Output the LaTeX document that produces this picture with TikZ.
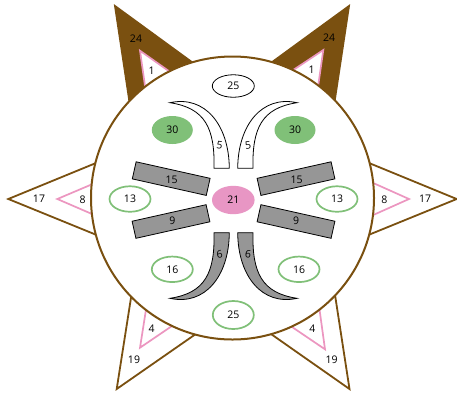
\documentclass[tikz,border=0pt]{standalone}
\usepackage{fontspec}
\setmainfont{Open Sans}
\usetikzlibrary{shapes.geometric}
\definecolor{brn}{RGB}{122,80,16}
\definecolor{pnk}{RGB}{236,150,192}
\definecolor{pnkfill}{RGB}{232,150,196}
\definecolor{grn}{RGB}{128,192,120}
\definecolor{gry}{RGB}{150,150,150}
\tikzset{
  lbl/.style={font=\fontsize{10.5}{12}\selectfont, inner sep=0pt},
  brline/.style={draw=brn, line width=1.8pt, line join=miter},
  pinktri/.style={draw=pnk, fill=white, line width=1.7pt, line join=miter},
  govl/.style={ellipse, draw=grn, line width=1.7pt, fill=white, minimum width=41pt, minimum height=25.5pt, inner sep=0pt, font=\fontsize{10.5}{12}\selectfont},
  gfill/.style={ellipse, fill=grn, minimum width=41pt, minimum height=28pt, inner sep=0pt, font=\fontsize{10.5}{12}\selectfont},
  bar/.style={rectangle, draw=black, fill=gry, line width=0.8pt, minimum width=75.8pt, minimum height=17.5pt, inner sep=0pt},
  horn/.style={draw=black, line width=0.8pt, line join=miter},
}
\begin{document}
\begin{tikzpicture}[x=1pt,y=-1pt]
\useasboundingbox (0,0) rectangle (457,392);
% star points
\filldraw[brline, fill=brn] (115,6) -- (131,112) -- (200,68) -- cycle;
\filldraw[brline, fill=brn] (349,6) -- (333,112) -- (264,68) -- cycle;
\draw[brline, fill=white] (8.3,199) -- (105,159.3) -- (105,238.4) -- cycle;
\draw[brline, fill=white] (456.7,199) -- (360,159.3) -- (360,238.4) -- cycle;
\draw[brline, fill=white] (116.7,389) -- (133,285) -- (205,327.6) -- cycle;
\draw[brline, fill=white] (349.5,389) -- (333.5,285) -- (261,327) -- cycle;
% pink triangles
\draw[pinktri] (140,50.7) -- (145.7,91) -- (172,73.3) -- cycle;
\draw[pinktri] (323.3,50) -- (317.6,90) -- (289.5,72.5) -- cycle;
\draw[pinktri] (57.3,199) -- (95,183) -- (95,215.3) -- cycle;
\draw[pinktri] (409,199) -- (371,182) -- (371,216) -- cycle;
\draw[pinktri] (140,347.7) -- (146.4,307) -- (174,324.6) -- cycle;
\draw[pinktri] (325,349.3) -- (319.3,308) -- (290,325.6) -- cycle;
% labels on points
\node[lbl] (t24l) at (136,38.3) {24};
\node[lbl] (t1l) at (151.7,70.7) {1};
\node[lbl] (t24r) at (329,37.3) {24};
\node[lbl] (t1r) at (311.7,69.3) {1};
\node[lbl] (l17) at (39,199) {17};
\node[lbl] (l8) at (82.7,200) {8};
\node[lbl] (r8) at (384.3,200) {8};
\node[lbl] (r17) at (425,199) {17};
\node[lbl] (b4l) at (151.7,329) {4};
\node[lbl] (b19l) at (134,360) {19};
\node[lbl] (b4r) at (312.3,329) {4};
\node[lbl] (b19r) at (331.7,360) {19};
% main circle
\draw[draw=brn, line width=2pt, fill=white] (232.5,198) circle [radius=141.5];
% top ellipse
\node[ellipse, draw=black, line width=0.8pt, fill=white, minimum width=42pt, minimum height=22.5pt, inner sep=0pt, font=\fontsize{10.5}{12}\selectfont] (e25t) at (233.3,86) {25};
\node[gfill] (e30l) at (172.3,130) {30};
\node[gfill] (e30r) at (295,130) {30};
% horns 5
\draw[horn, fill=white] (214,168.3) .. controls (215,128) and (205,108) .. (170,102.7) .. controls (205,95) and (229,125) .. (229.3,168.3) -- cycle;
\draw[horn, fill=white] (253,168.3) .. controls (252,128) and (262,108) .. (297,102.7) .. controls (262,95) and (238,125) .. (237.7,168.3) -- cycle;
\node[lbl, rotate=-8] (h5l) at (219.5,145) {5};
\node[lbl, rotate=8] (h5r) at (248,145) {5};
% horns 6
\draw[horn, fill=gry] (214,232.7) .. controls (215,273) and (205,293) .. (170,298.3) .. controls (205,306) and (229,276) .. (229.3,232.7) -- cycle;
\draw[horn, fill=gry] (253,232.7) .. controls (252,273) and (262,293) .. (297,298.3) .. controls (262,306) and (238,276) .. (237.7,232.7) -- cycle;
\node[lbl, rotate=8] (h6l) at (219.5,254.3) {6};
\node[lbl, rotate=-8] (h6r) at (248,254.3) {6};
% bars
\node[bar, rotate=-12.6] (b15l) at (171.2,178.6) {};
\node[bar, rotate=12.6] (b9l) at (171,221.5) {};
\node[bar, rotate=12.6] (b15r) at (296,178.6) {};
\node[bar, rotate=-12.6] (b9r) at (296,221.5) {};
\node[lbl] (t15l) at (171.7,179.3) {15};
\node[lbl] (t9l) at (172.3,220.5) {9};
\node[lbl] (t15r) at (296.7,179.3) {15};
\node[lbl] (t9r) at (296,220.5) {9};
% center
\node[ellipse, fill=pnkfill, minimum width=42.6pt, minimum height=28.4pt, inner sep=0pt, font=\fontsize{10.5}{12}\selectfont] (e21) at (233.3,200) {21};
% green outlined ellipses
\node[govl] (e13l) at (130,199) {13};
\node[govl] (e13r) at (337,199) {13};
\node[govl] (e16l) at (172.3,269.3) {16};
\node[govl] (e16r) at (299,269.3) {16};
\node[govl, minimum height=28pt] (e25b) at (233.3,315) {25};
\end{tikzpicture}
\end{document}
